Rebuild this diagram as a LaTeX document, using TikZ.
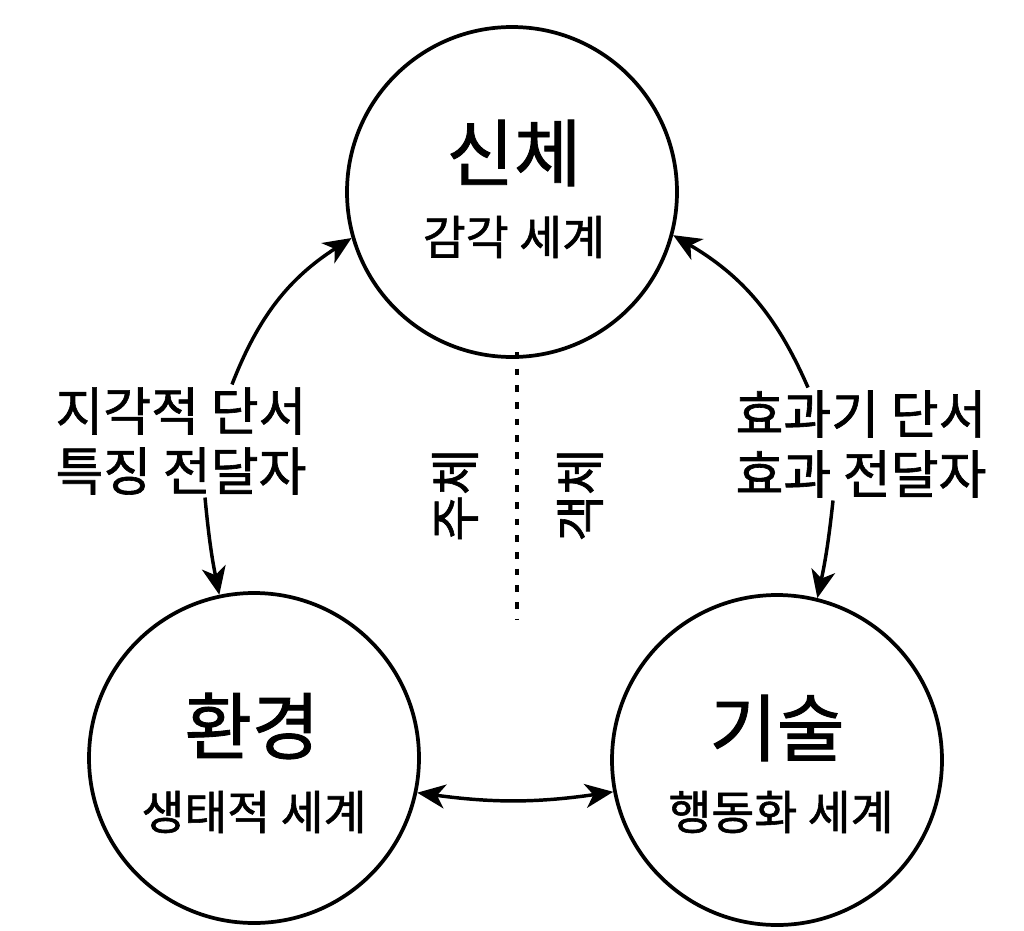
\documentclass[tikz,border=0pt]{standalone}
\usepackage{fontspec}
\setmainfont{Noto Sans CJK KR}[FakeBold=1.2]
\usetikzlibrary{arrows.meta}
\begin{document}
\begin{tikzpicture}[x=0.75pt,y=-0.75pt,
  world/.style={draw, line width=2.8pt, circle, minimum size=247.5pt, inner sep=0pt},
  title/.style={font=\fontsize{55}{60}\selectfont, inner sep=0pt},
  sub/.style={font=\fontsize{35}{40}\selectfont, inner sep=0pt},
  cue/.style={font=\fontsize{39}{45}\selectfont, align=center, inner sep=2pt},
  vert/.style={font=\fontsize{38}{44}\selectfont, rotate=90, inner sep=0pt},
  conn/.style={line width=2.6pt, -{Stealth[length=21pt,width=18pt,inset=6pt]}},
  conn2/.style={line width=2.6pt, {Stealth[length=21pt,width=18pt,inset=6pt]}-{Stealth[length=21pt,width=18pt,inset=6pt]}}
]
\useasboundingbox (0,0) rectangle (1024,931);
\fill[white] (0,0) rectangle (1024,931);

\node[world] (body) at (512,192) {};
\node[world] (env) at (254,758) {};
\node[world] (tech) at (777,760) {};

\node[title] (bodyT) at (514,153) {신체};
\node[sub] (bodyS) at (514,237) {감각 세계};
\node[title] (envT) at (252,726) {환경};
\node[sub] (envS) at (254,812) {생태적 세계};
\node[title] (techT) at (777,728) {기술};
\node[sub] (techS) at (781,812) {행동화 세계};

\node[cue] (left) at (181,441) {지각적 단서\\특징 전달자};
\node[cue] (right) at (861,444) {효과기 단서\\효과 전달자};

\node[vert] (subj) at (455,495) {주체};
\node[vert] (obj) at (580,495) {객체};

\coordinate (dtop) at (517,352);
\coordinate (dbot) at (517,620);
\draw[line width=2.6pt, dash pattern=on 5pt off 7.5pt] (dtop) -- (dbot);

\draw[conn] (left.north -| 232,0) to[bend left=18] (body.196);
\draw[conn] (left.south -| 205,0) to[bend right=3] (env.102);
\draw[conn] (right.north -| 808,0) to[bend right=18] (body.345);
\draw[conn] (right.south -| 833,0) to[bend left=3] (tech.76);
\draw[conn2] (env.-12) to[bend right=8] (tech.191);
\end{tikzpicture}
\end{document}
